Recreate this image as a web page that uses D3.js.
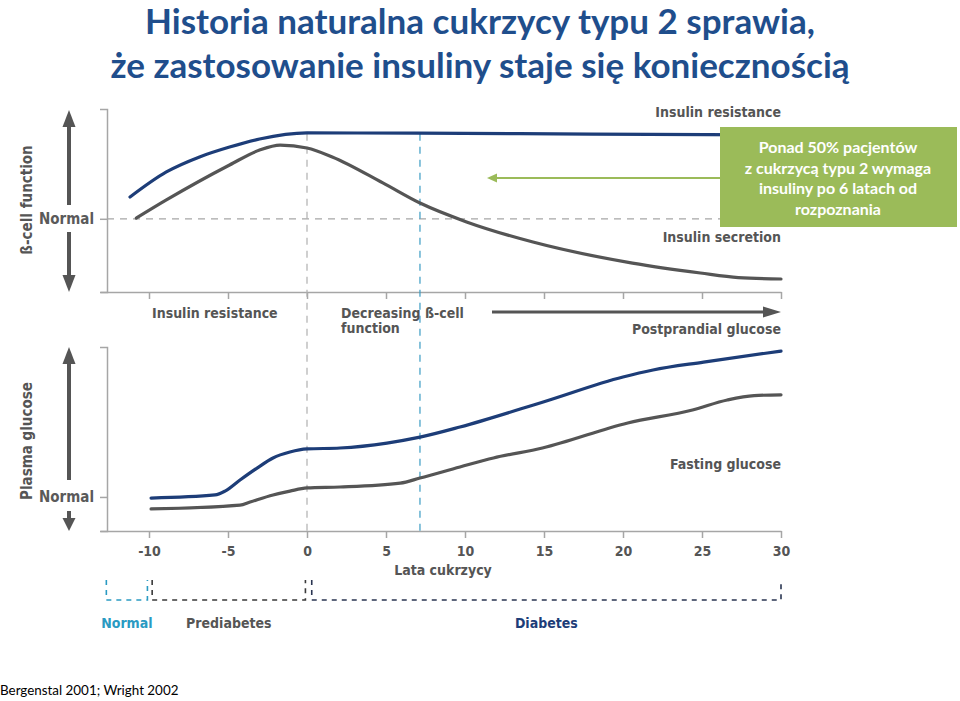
<!DOCTYPE html>
<html><head><meta charset="utf-8">
<script src="https://cdn.jsdelivr.net/npm/d3@7"></script>
<style>
body{margin:0;background:#fff;}
svg{display:block;}
</style></head>
<body>
<svg id="c" width="960" height="701"></svg>
<script>
// ---------- DATA ----------
const titleLines = ["Historia naturalna cukrzycy typu 2 sprawia,", "że zastosowanie insuliny staje się koniecznością"];
const xTicks = [-10, -5, 0, 5, 10, 15, 20, 25, 30];
const xTitle = "Lata cukrzycy";
// top panel: beta-cell function (arbitrary 0-100 units)
const insulinResistance = [[-11.2,51.9],[-8.9,65.6],[-6.8,73.8],[-4.9,79.2],[-3.0,83.6],[0,86.9],[7,86.8],[18,86.3],[30,85.8]];
const insulinSecretion = [[-10.8,40.4],[-8.9,50.3],[-4.9,69.4],[-3.0,77.6],[-1.7,80.3],[0,78.7],[1.6,73.8],[4.8,59.6],[7.15,48.6],[10.1,38.3],[14.3,27.3],[20.6,15.8],[24.9,10.4],[27.3,7.9],[30,7.1]];
const topNormal = 40;
// bottom panel: plasma glucose (arbitrary 0-100 units)
const postprandial = [[-9.87,17.9],[-5.82,19.6],[-5.19,21.7],[-4.24,27.7],[-3.16,34.2],[-2.15,39.7],[-1.08,42.9],[0,44.6],[2.09,45.1],[5.06,47.8],[7.15,51],[9.68,56.5],[14.9,70],[20,83.7],[21.9,87.5],[25.1,91.8],[30,97.8]];
const fasting = [[-9.87,12],[-4.24,14.1],[-3.6,15.8],[-2.15,19.6],[-1.08,21.7],[0,23.4],[2.09,23.9],[5.9,26],[7.15,28.8],[9.68,34.8],[11.8,39.7],[14.9,45.1],[20.3,58.7],[24.4,65.8],[26.6,71.2],[28.3,73.6],[30,74]];
const bottomNormal = 18.5;
const markerYears = [0, 7.15];           // diagnosis, insulin needed
const phases = [
  {name:"Normal", start:-12.7, end:-10.1},
  {name:"Prediabetes", start:-9.8, end:-0.1},
  {name:"Diabetes", start:0.3, end:30}
];
const boxLines = ["Ponad 50% pacjentów", "z cukrzycą typu 2 wymaga", "insuliny po 6 latach od", "rozpoznania"];
const citation = "Bergenstal 2001; Wright 2002";

// ---------- STYLE ----------
const NAVY = "#1d3d78", GRAY = "#555555", TEAL = "#2a9ac2", AX = "#a6a6a6", GREEN = "#9bbb59";
const LF = "'DejaVu Sans Condensed','DejaVu Sans',sans-serif";
const TF = "Lato, 'Open Sans', sans-serif";

const svg = d3.select("#c");

// title
svg.append("g").selectAll("text").data(titleLines).join("text")
  .attr("x", 480).attr("y", (d,i)=>34 + i*44)
  .attr("text-anchor","middle").attr("font-family",TF).attr("font-weight",700)
  .attr("font-size",35).attr("fill","#1f4e8c").text(d=>d);

// scales
const x = d3.scaleLinear().domain([-10,30]).range([149,781]);
const xFull = x.copy().domain([x.invert(100), 30]).range([100,781]);
const yTop = d3.scaleLinear().domain([0,100]).range([292,109]);
const yBot = d3.scaleLinear().domain([0,100]).range([531,347]);
const AXX = 107;

function styleAxis(g){
  g.selectAll("path,line").attr("stroke",AX).attr("stroke-width",1.5);
  g.selectAll("text").attr("font-family",LF).attr("font-weight","bold").attr("font-size",14).attr("fill",GRAY);
}
function styleNormal(g){
  g.selectAll("text").attr("font-size",15).attr("fill","#5a5a5a");
}

// top panel axes
svg.append("g").attr("transform",`translate(0,${yTop(0)})`)
  .call(d3.axisBottom(xFull).tickValues(xTicks).tickSize(7).tickSizeOuter(0).tickFormat(""))
  .call(styleAxis);
svg.append("g").attr("transform",`translate(${AXX},0)`)
  .call(d3.axisLeft(yTop).tickValues([topNormal]).tickSize(7).tickSizeOuter(7).tickPadding(6).tickFormat(()=>"Normal"))
  .call(styleAxis).call(styleNormal);
// bottom panel axes
svg.append("g").attr("transform",`translate(0,${yBot(0)})`)
  .call(d3.axisBottom(xFull).tickValues(xTicks).tickSize(7).tickSizeOuter(0).tickPadding(8).tickFormat(d=>String(d)))
  .call(styleAxis);
svg.append("g").attr("transform",`translate(${AXX},0)`)
  .call(d3.axisLeft(yBot).tickValues([bottomNormal]).tickSize(7).tickSizeOuter(7).tickPadding(6).tickFormat(()=>"Normal"))
  .call(styleAxis).call(styleNormal);

// dashed normal line top
svg.append("line").attr("x1",AXX).attr("x2",x(30)).attr("y1",yTop(topNormal)).attr("y2",yTop(topNormal))
  .attr("stroke",AX).attr("stroke-width",1.2).attr("stroke-dasharray","7,6");

// vertical markers
svg.append("g").selectAll("line").data(markerYears).join("line")
  .attr("x1",d=>x(d)).attr("x2",d=>x(d)).attr("y1",yTop(86.5)).attr("y2",yBot(0))
  .attr("stroke",(d,i)=>i? "#3b9cc4" : "#b0b0b0").attr("stroke-width",1.2).attr("stroke-dasharray","7,6");

// curves
const line = (ys) => d3.line().x(d=>x(d[0])).y(d=>ys(d[1])).curve(d3.curveMonotoneX);
[[insulinSecretion,yTop,GRAY],[insulinResistance,yTop,NAVY],[fasting,yBot,GRAY],[postprandial,yBot,NAVY]].forEach(([data,ys,col])=>{
  svg.append("path").datum(data).attr("d",line(ys)).attr("fill","none").attr("stroke",col).attr("stroke-width",3.2).attr("stroke-linecap","round");
});

// labels
const lab = (t,xx,yy,anchor="end") => svg.append("text").attr("x",xx).attr("y",yy).attr("text-anchor",anchor)
  .attr("font-family",LF).attr("font-weight","bold").attr("font-size",14).attr("fill",GRAY).text(t);
lab("Insulin resistance", x(30), 117);
lab("Insulin secretion", x(30), 242);
lab("Postprandial glucose", x(30), 334);
lab("Fasting glucose", x(30), 469);
lab("Insulin resistance", 152, 318, "start");
lab("Decreasing ß-cell", 341, 318, "start");
lab("function", 341, 333, "start");
lab(xTitle, 443, 575, "middle");

// rotated y titles
[["ß-cell function", 200],["Plasma glucose", 441]].forEach(([t,cy])=>{
  svg.append("text").attr("transform",`translate(32,${cy}) rotate(-90)`).attr("text-anchor","middle")
    .attr("font-family",LF).attr("font-weight","bold").attr("font-size",15).attr("fill",GRAY).text(t);
});

// arrows
function arrow(x1,y1,x2,y2,col,w,hl,hw){
  const ang = Math.atan2(y2-y1,x2-x1);
  const bx = x2 - hl*Math.cos(ang), by = y2 - hl*Math.sin(ang);
  svg.append("line").attr("x1",x1).attr("y1",y1).attr("x2",bx).attr("y2",by).attr("stroke",col).attr("stroke-width",w);
  const px = -Math.sin(ang)*hw/2, py = Math.cos(ang)*hw/2;
  svg.append("path").attr("d",`M${x2},${y2}L${bx+px},${by+py}L${bx-px},${by-py}Z`).attr("fill",col);
}
arrow(69, 205, 69, 110, GRAY, 4, 17, 13);
arrow(69, 232, 69, 292, GRAY, 4, 17, 13);
arrow(69, 480, 69, 347, GRAY, 4, 17, 13);
arrow(69, 511, 69, 531, GRAY, 4, 13, 13);
arrow(492, 312, x(30), 312, GRAY, 3, 18, 11);
arrow(720, 178, 487, 178, GREEN, 2, 10, 9);

// green box
svg.append("rect").attr("x",720).attr("y",127).attr("width",237).attr("height",100).attr("fill",GREEN);
svg.append("g").selectAll("text").data(boxLines).join("text")
  .attr("x",838).attr("y",(d,i)=>153 + i*20.5).attr("text-anchor","middle")
  .attr("font-family",TF).attr("font-weight",700).attr("font-size",16).attr("fill","#fff").text(d=>d);

// phase brackets
const phaseCol = {Normal:TEAL, Prediabetes:"#3a3a3a", Diabetes:"#2a3552"};
const labCol = {Normal:TEAL, Prediabetes:GRAY, Diabetes:NAVY};
const pg = svg.append("g");
phases.forEach(p=>{
  const x1 = xFull(p.start), x2 = xFull(p.end), col = phaseCol[p.name];
  pg.append("path").attr("d",`M${x1},580V600H${x2}V580`).attr("fill","none").attr("stroke",col)
    .attr("stroke-width",1.6).attr("stroke-dasharray","5,5");
  pg.append("text").attr("x",(x1+x2)/2).attr("y",628).attr("text-anchor","middle")
    .attr("font-family",LF).attr("font-weight","bold").attr("font-size",14).attr("fill",labCol[p.name]).text(p.name);
});

// citation
svg.append("text").attr("x",0).attr("y",695).attr("font-family",TF).attr("font-size",13.4).attr("fill","#000").text(citation);
</script>
</body></html>
